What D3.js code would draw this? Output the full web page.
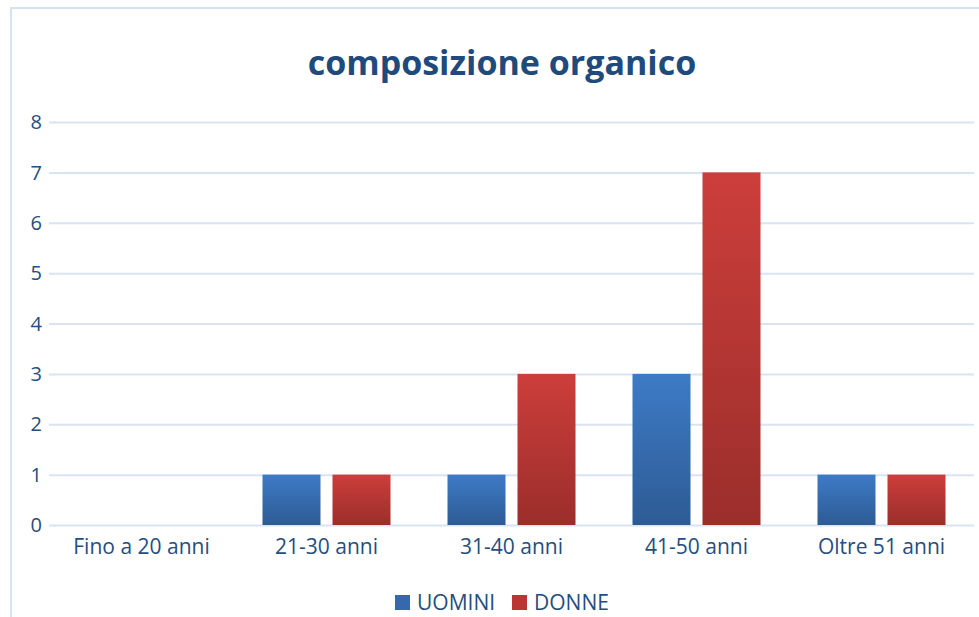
<!DOCTYPE html>
<html>
<head>
    <title>composizione organico</title>
    <script src="https://cdnjs.cloudflare.com/ajax/libs/d3/7.8.5/d3.min.js"></script>
    <style>
        body { margin: 0; background: #fff; }
        text { font-family: 'Open Sans', 'Noto Sans', sans-serif; fill: #264d7e; }
        .grid line { stroke: #d9e4f3; stroke-width: 2; }
        .grid .domain { display: none; }
    </style>
</head>
<body>
    <div id="chart"></div>
    <script>
        // Data
        const categories = ['Fino a 20 anni', '21-30 anni', '31-40 anni', '41-50 anni', 'Oltre 51 anni'];
        const uomini = [0, 1, 1, 3, 1];
        const donne = [0, 1, 3, 7, 1];
        const seriesNames = ['UOMINI', 'DONNE'];
        const yTicks = [0, 1, 2, 3, 4, 5, 6, 7, 8];

        const W = 979, H = 617;
        const plot = { left: 49, right: 974, top: 122, bottom: 525 };

        const svg = d3.select('#chart')
            .append('svg')
            .attr('width', W)
            .attr('height', H);

        // gradients for the bars
        const defs = svg.append('defs');
        const grads = [
            { id: 'gBlue', top: '#3d7bc6', bottom: '#2d5b94' },
            { id: 'gRed', top: '#cc3e3b', bottom: '#9b2e2b' }
        ];
        grads.forEach(g => {
            const lg = defs.append('linearGradient')
                .attr('id', g.id)
                .attr('x1', 0).attr('y1', 0).attr('x2', 0).attr('y2', 1);
            lg.append('stop').attr('offset', '0%').attr('stop-color', g.top);
            lg.append('stop').attr('offset', '100%').attr('stop-color', g.bottom);
        });

        // chart border
        svg.append('rect')
            .attr('x', 11).attr('y', 8)
            .attr('width', W + 20).attr('height', H + 20)
            .attr('fill', 'none')
            .attr('stroke', '#d5e2f3')
            .attr('stroke-width', 2);

        const x = d3.scaleBand()
            .domain(categories)
            .range([plot.left, plot.right]);

        const y = d3.scaleLinear()
            .domain([0, 8])
            .range([plot.bottom, plot.top]);

        // gridlines
        svg.append('g')
            .attr('class', 'grid')
            .attr('transform', `translate(${plot.left},0)`)
            .call(d3.axisLeft(y).tickValues(yTicks).tickSize(-(plot.right - plot.left)).tickFormat(''));

        // y labels
        svg.append('g')
            .selectAll('text')
            .data(yTicks)
            .enter()
            .append('text')
            .attr('x', 42)
            .attr('y', d => y(d))
            .attr('dy', '0.36em')
            .attr('text-anchor', 'end')
            .style('font-size', '20px')
            .text(d => d);

        // x labels
        svg.append('g')
            .selectAll('text')
            .data(categories)
            .enter()
            .append('text')
            .attr('x', d => x(d) + x.bandwidth() / 2)
            .attr('y', 554)
            .attr('text-anchor', 'middle')
            .style('font-size', '21px')
            .text(d => d);

        // bars
        const barW = 58, gap = 12;
        const series = [
            { name: seriesNames[0], values: uomini, fill: 'url(#gBlue)', offset: -gap / 2 - barW },
            { name: seriesNames[1], values: donne, fill: 'url(#gRed)', offset: gap / 2 }
        ];
        series.forEach(s => {
            svg.append('g')
                .selectAll('rect')
                .data(s.values.map((v, i) => ({ cat: categories[i], v })).filter(d => d.v > 0))
                .enter()
                .append('rect')
                .attr('x', d => x(d.cat) + x.bandwidth() / 2 + s.offset)
                .attr('y', d => y(d.v))
                .attr('width', barW)
                .attr('height', d => y(0) - y(d.v))
                .attr('fill', s.fill);
        });

        // title
        svg.append('text')
            .attr('x', 502)
            .attr('y', 75)
            .attr('text-anchor', 'middle')
            .style('font-size', '34px')
            .style('font-weight', 'bold')
            .style('fill', '#1f4a7c')
            .text('composizione organico');

        // legend
        const legend = svg.append('g');
        const legendItems = [
            { name: seriesNames[0], color: '#3469ae', x: 395 },
            { name: seriesNames[1], color: '#bb3633', x: 512 }
        ];
        legendItems.forEach(l => {
            legend.append('rect')
                .attr('x', l.x).attr('y', 595)
                .attr('width', 15).attr('height', 15)
                .attr('fill', l.color);
            legend.append('text')
                .attr('x', l.x + 22).attr('y', 610)
                .style('font-size', '21px')
                .text(l.name);
        });
    </script>
</body>
</html>
